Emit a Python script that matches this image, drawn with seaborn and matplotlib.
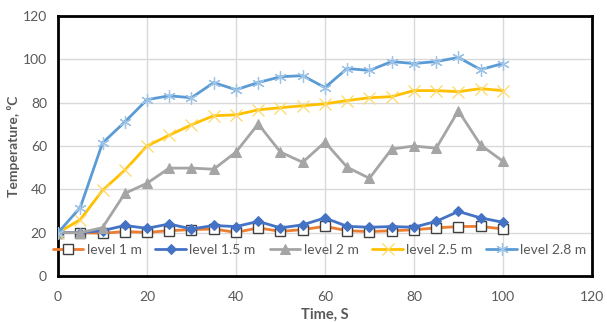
import numpy as np
import pandas as pd
import matplotlib
matplotlib.use("Agg")
import matplotlib.pyplot as plt
import seaborn as sns

time = [0, 5, 10, 15, 20, 25, 30, 35, 40, 45, 50, 55, 60, 65, 70, 75, 80, 85, 90, 95, 100]
level_1 = [20, 20, 19.7, 20.5, 20.1, 20.9, 21.4, 21.7, 20.1, 22.2, 20.6, 21.4, 22.9, 20.9, 20.5, 20.9, 21.3, 22.2, 22.8, 22.9, 21.7]
level_1_5 = [20, 20, 20.9, 23.3, 22.0, 24.0, 21.7, 23.3, 22.8, 25.2, 22.2, 23.6, 26.8, 22.9, 22.5, 22.8, 22.5, 25.2, 29.8, 26.8, 24.8]
level_2 = [20, 20, 22.3, 38.1, 42.8, 49.8, 49.8, 49.3, 57.2, 70.2, 57.2, 52.5, 61.8, 50.2, 45.1, 58.6, 60.0, 59.0, 76.3, 60.5, 53.0]
level_2_5 = [20, 26.0, 39.5, 48.8, 60.0, 65.0, 69.8, 74.0, 74.4, 76.7, 77.7, 78.6, 79.5, 81.0, 82.3, 82.8, 85.6, 85.6, 85.1, 86.5, 85.6]
level_2_8 = [20, 31.6, 61.4, 71.1, 81.4, 83.2, 82.3, 89.3, 86.0, 89.3, 92.0, 92.5, 87.0, 95.8, 94.9, 99.0, 98.1, 99.0, 100.9, 95.3, 98.1]
series_names = ["level 1 m", "level 1.5 m", "level 2 m", "level 2.5 m", "level 2.8 m"]
x_ticks = [0, 20, 40, 60, 80, 100, 120]
y_ticks = [0, 20, 40, 60, 80, 100, 120]

values = [level_1, level_1_5, level_2, level_2_5, level_2_8]
df = pd.concat([pd.DataFrame({"Time": time, "Temp": v, "Series": n}) for n, v in zip(series_names, values)])

sns.set_theme(style="white")
plt.rcParams['font.family'] = ['Lato', 'DejaVu Sans']

fig = plt.figure(figsize=(6.07, 3.22), dpi=100)
ax = fig.add_axes([0.0956, 0.143, 0.8794, 0.807])

styles = {
    "level 1 m": dict(color="#ED7D31", marker="s", markersize=7, markerfacecolor="white",
                      markeredgecolor="#404040", markeredgewidth=1.0),
    "level 1.5 m": dict(color="#4472C4", marker="D", markersize=5.5, markerfacecolor="#4472C4",
                        markeredgecolor="#4472C4"),
    "level 2 m": dict(color="#A5A5A5", marker="^", markersize=7, markerfacecolor="#A5A5A5",
                      markeredgecolor="#A5A5A5"),
    "level 2.5 m": dict(color="#FFC000", marker="x", markersize=8, markeredgewidth=0.9,
                        markeredgecolor="#FFD966"),
    "level 2.8 m": dict(color="#5B9BD5", marker=(6, 2, 0), markersize=9, markeredgewidth=0.9,
                        markeredgecolor="#9DC3E6"),
}
for name in series_names:
    sub = df[df["Series"] == name]
    sns.lineplot(data=sub, x="Time", y="Temp", ax=ax, linewidth=2.0, label=name,
                 zorder=3, **styles[name])

ax.set_xlim(0, 120)
ax.set_ylim(0, 120)
ax.set_xticks(x_ticks)
ax.set_yticks(y_ticks)
ax.grid(True, color="#D9D9D9", linewidth=1.0)
ax.set_axisbelow(True)
for s in ax.spines.values():
    s.set_color("black")
    s.set_linewidth(2.0)
ax.tick_params(axis="both", length=0, labelsize=10, labelcolor="#595959")
ax.tick_params(axis="x", pad=11)
ax.tick_params(axis="y", pad=8)
ax.set_xlabel("Time, S", fontsize=10.5, fontweight="bold", color="#595959", labelpad=3)
ax.set_ylabel("Temperature, \u2070C", fontsize=10, fontweight="bold", color="#595959", labelpad=2)

leg = ax.legend(loc="center", bbox_to_anchor=(0.49, 0.10), ncol=5, frameon=False,
                fontsize=10, handlelength=2.2, columnspacing=1.0, handletextpad=0.25,
                borderaxespad=0, borderpad=0)
for t in leg.get_texts():
    t.set_color("#595959")

fig.savefig("out.png", dpi=100)
